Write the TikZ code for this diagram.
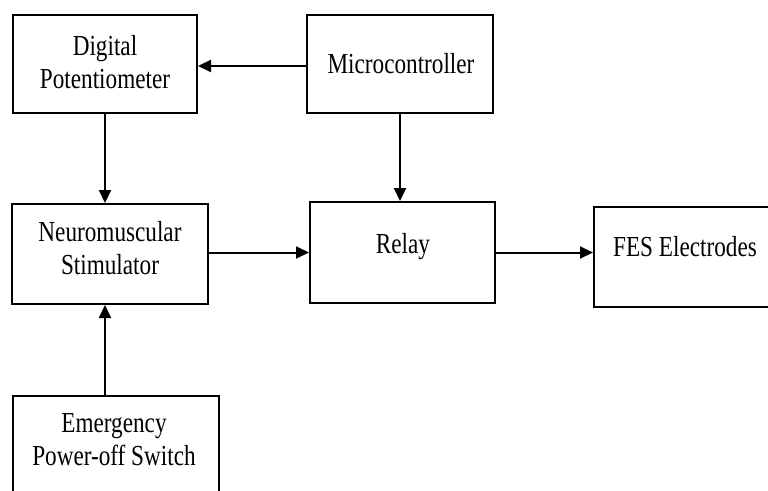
\documentclass[tikz,border=0pt]{standalone}
\usepackage{fontspec}
\setmainfont[FakeStretch=0.80]{Liberation Serif}
\usetikzlibrary{arrows.meta}
\begin{document}
\begin{tikzpicture}[x=1pt,y=-1pt,
  boxline/.style={draw=black, line width=2pt},
  blk/.style={boxline, rectangle, inner sep=0pt},
  txt/.style={font=\fontsize{29}{33}\selectfont, align=center, inner sep=0pt},
  arr/.style={line width=2pt, -{Triangle[length=13pt,width=12pt]}}]
\useasboundingbox (0,0) rectangle (768,490);
\clip (0,0) rectangle (768,490);
% boxes
\node[blk, minimum width=184pt, minimum height=98pt] (dp) at (105,64) {};
\node[blk, minimum width=186pt, minimum height=98pt] (mc) at (400,64) {};
\node[blk, minimum width=196pt, minimum height=100pt] (nm) at (110,254) {};
\node[blk, minimum width=185pt, minimum height=101pt] (relay) at (402.5,252.5) {};
\node[blk, minimum width=182pt, minimum height=100pt] (fes) at (685,257) {};
\node[rectangle, inner sep=0pt, minimum width=206pt, minimum height=100pt] (em) at (116,446) {};
\draw[boxline] (em.south west) -- (em.north west) -- (em.north east) -- (em.south east);
% texts
\node[txt] (dpT) at (105,61.8) {Digital\\Potentiometer};
\node[txt] (mcT) at (401,63.2) {Microcontroller};
\node[txt] (nmT) at (110,247.7) {Neuromuscular\\Stimulator};
\node[txt] (relayT) at (403,246.3) {Relay};
\node[txt] (fesT) at (685,247) {FES Electrodes};
\node[txt] (emT) at (114,439.5) {Emergency\\Power-off Switch};
% connectors
\draw[arr] ([yshift=-2pt]mc.west) -- ([yshift=-2pt]dp.east);
\draw[arr] (dp.south) -- (dp.south |- nm.north);
\draw[arr] (mc.south) -- (mc.south |- relay.north);
\draw[arr] (relay.west -| nm.east) -- (relay.west);
\draw[arr] (relay.east) -- (relay.east -| fes.west);
\draw[arr] (em.north -| dp.south) -- (dp.south |- nm.south);
\end{tikzpicture}
\end{document}
